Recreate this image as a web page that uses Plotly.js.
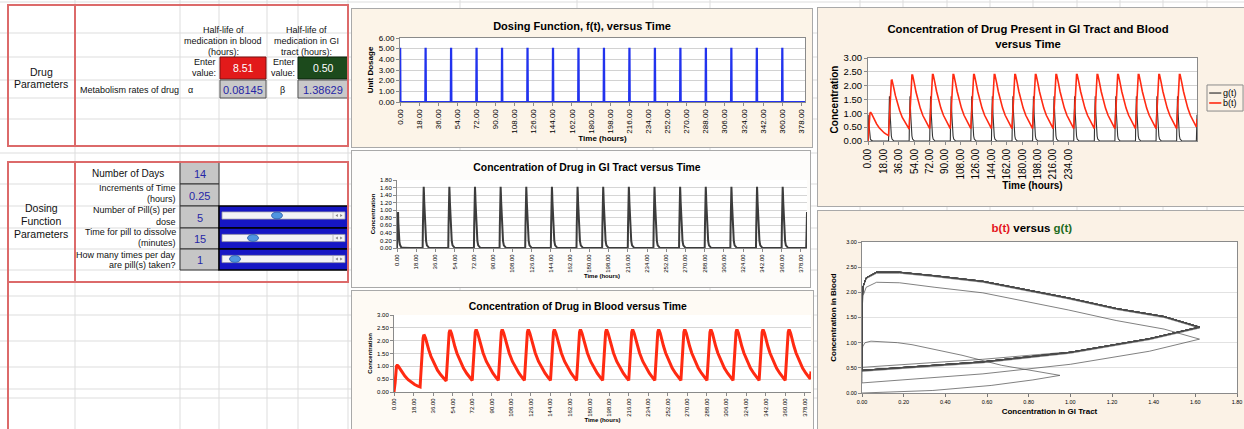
<!DOCTYPE html>
<html><head><meta charset="utf-8">
<script src="https://cdn.plot.ly/plotly-3.0.1.min.js"></script>
<style>
html,body{margin:0;padding:0;background:#fff;width:1244px;height:429px;overflow:hidden}
.pan{position:absolute;outline:1px solid #a9a9a9}
</style></head><body>
<div id="sheet" style="position:absolute;left:0;top:0;width:1244px;height:429px"></div>
<div id="c1" class="pan" style="left:352px;top:9px;width:460px;height:138px"></div>
<div id="c2" class="pan" style="left:352px;top:151px;width:458px;height:136px"></div>
<div id="c3" class="pan" style="left:352px;top:291px;width:461px;height:140px"></div>
<div id="c4" class="pan" style="left:818px;top:8px;width:426px;height:198px"></div>
<div id="c5" class="pan" style="left:818px;top:211px;width:426px;height:220px"></div>
<script>
const F = '"Liberation Sans", Arial, Helvetica, sans-serif';

// ---------------- data ----------------
const doseTime = [0,0.25,0.5, 23.75,24,24.25,24.5, 47.75,48,48.25,48.5, 71.75,72,72.25,72.5,
  95.75,96,96.25,96.5, 119.75,120,120.25,120.5, 143.75,144,144.25,144.5, 167.75,168,168.25,168.5,
  191.75,192,192.25,192.5, 215.75,216,216.25,216.5, 239.75,240,240.25,240.5, 263.75,264,264.25,264.5,
  287.75,288,288.25,288.5, 311.75,312,312.25,312.5, 335.75,336,336.25,336.5, 359.75,360,360.25,360.5, 381.5];
const doseValue = [5,5,0, 0,5,5,0, 0,5,5,0, 0,5,5,0, 0,5,5,0, 0,5,5,0, 0,5,5,0, 0,5,5,0,
  0,5,5,0, 0,5,5,0, 0,5,5,0, 0,5,5,0, 0,5,5,0, 0,5,5,0, 0,5,5,0, 0,5,5,0, 0];

const time = [
  0,0.25,0.5,0.75,1,1.25,1.5,1.75,2,2.25,2.75,3.25,4,5,6,8,10,13,16,19,22,
  24,24.25,24.5,24.75,25,25.25,25.5,25.75,26,26.25,26.75,27.25,28,29,30,32,34,37,40,43,46,
  48,48.25,48.5,48.75,49,49.25,49.5,49.75,50,50.25,50.75,51.25,52,53,54,56,58,61,64,67,70,
  72,72.25,72.5,72.75,73,73.25,73.5,73.75,74,74.25,74.75,75.25,76,77,78,80,82,85,88,91,94,
  96,96.25,96.5,96.75,97,97.25,97.5,97.75,98,98.25,98.75,99.25,100,101,102,104,106,109,112,115,118,
  120,120.25,120.5,120.75,121,121.25,121.5,121.75,122,122.25,122.75,123.25,124,125,126,128,130,133,136,139,142,
  144,144.25,144.5,144.75,145,145.25,145.5,145.75,146,146.25,146.75,147.25,148,149,150,152,154,157,160,163,166,
  168,168.25,168.5,168.75,169,169.25,169.5,169.75,170,170.25,170.75,171.25,172,173,174,176,178,181,184,187,190,
  192,192.25,192.5,192.75,193,193.25,193.5,193.75,194,194.25,194.75,195.25,196,197,198,200,202,205,208,211,214,
  216,216.25,216.5,216.75,217,217.25,217.5,217.75,218,218.25,218.75,219.25,220,221,222,224,226,229,232,235,238,
  240,240.25,240.5,240.75,241,241.25,241.5,241.75,242,242.25,242.75,243.25,244,245,246,248,250,253,256,259,262,
  264,264.25,264.5,264.75,265,265.25,265.5,265.75,266,266.25,266.75,267.25,268,269,270,272,274,277,280,283,286,
  288,288.25,288.5,288.75,289,289.25,289.5,289.75,290,290.25,290.75,291.25,292,293,294,296,298,301,304,307,310,
  312,312.25,312.5,312.75,313,313.25,313.5,313.75,314,314.25,314.75,315.25,316,317,318,320,322,325,328,331,334,
  336,336.25,336.5,336.75,337,337.25,337.5,337.75,338,338.25,338.75,339.25,340,341,342,344,346,349,352,355,358,
  360,360.25,360.5,360.75,361,361.25,361.5,361.75,362,362.25,362.75,363.25,364,365,366,368,370,373,376,379,382,
  383,383.5,383.75];

const gut = [
  0,0.34,0.62,0.82,0.95,0.67,0.48,0.34,0.24,0.17,0.085,0.043,0.015,0.004,0.001,0,0,0,0,0,0,
  0,0.58,1.0,1.38,1.62,1.45,1.22,0.99,0.78,0.58,0.35,0.18,0.07,0.02,0.005,0,0,0,0,0,0,
  0,0.58,1.0,1.38,1.62,1.45,1.22,0.99,0.78,0.58,0.35,0.18,0.07,0.02,0.005,0,0,0,0,0,0,
  0,0.58,1.0,1.38,1.62,1.45,1.22,0.99,0.78,0.58,0.35,0.18,0.07,0.02,0.005,0,0,0,0,0,0,
  0,0.58,1.0,1.38,1.62,1.45,1.22,0.99,0.78,0.58,0.35,0.18,0.07,0.02,0.005,0,0,0,0,0,0,
  0,0.58,1.0,1.38,1.62,1.45,1.22,0.99,0.78,0.58,0.35,0.18,0.07,0.02,0.005,0,0,0,0,0,0,
  0,0.58,1.0,1.38,1.62,1.45,1.22,0.99,0.78,0.58,0.35,0.18,0.07,0.02,0.005,0,0,0,0,0,0,
  0,0.58,1.0,1.38,1.62,1.45,1.22,0.99,0.78,0.58,0.35,0.18,0.07,0.02,0.005,0,0,0,0,0,0,
  0,0.58,1.0,1.38,1.62,1.45,1.22,0.99,0.78,0.58,0.35,0.18,0.07,0.02,0.005,0,0,0,0,0,0,
  0,0.58,1.0,1.38,1.62,1.45,1.22,0.99,0.78,0.58,0.35,0.18,0.07,0.02,0.005,0,0,0,0,0,0,
  0,0.58,1.0,1.38,1.62,1.45,1.22,0.99,0.78,0.58,0.35,0.18,0.07,0.02,0.005,0,0,0,0,0,0,
  0,0.58,1.0,1.38,1.62,1.45,1.22,0.99,0.78,0.58,0.35,0.18,0.07,0.02,0.005,0,0,0,0,0,0,
  0,0.58,1.0,1.38,1.62,1.45,1.22,0.99,0.78,0.58,0.35,0.18,0.07,0.02,0.005,0,0,0,0,0,0,
  0,0.58,1.0,1.38,1.62,1.45,1.22,0.99,0.78,0.58,0.35,0.18,0.07,0.02,0.005,0,0,0,0,0,0,
  0,0.58,1.0,1.38,1.62,1.45,1.22,0.99,0.78,0.58,0.35,0.18,0.07,0.02,0.005,0,0,0,0,0,0,
  0,0.58,1.0,1.38,1.62,1.45,1.22,0.99,0.78,0.58,0.35,0.18,0.07,0.02,0.005,0,0,0,0,0,0,
  0,0.58,0.95];

const blood = [
  0,0.05,0.15,0.26,0.35,0.55,0.75,0.88,0.96,1.0,1.03,1.03,1.0,0.93,0.86,0.73,0.62,0.48,0.37,0.29,0.23,
  0.2,0.38,0.57,0.83,1.07,1.27,1.44,1.65,1.83,1.99,2.10,2.19,2.20,2.10,1.93,1.64,1.39,1.09,0.85,0.67,0.52,
  0.43,0.60,0.79,1.06,1.29,1.50,1.66,1.87,2.04,2.20,2.31,2.38,2.38,2.27,2.09,1.77,1.50,1.18,0.92,0.72,0.55,
  0.45,0.62,0.81,1.08,1.31,1.52,1.68,1.89,2.06,2.22,2.33,2.40,2.40,2.29,2.11,1.79,1.52,1.19,0.93,0.73,0.56,
  0.45,0.62,0.81,1.08,1.31,1.52,1.68,1.89,2.06,2.22,2.33,2.40,2.40,2.29,2.11,1.79,1.52,1.19,0.93,0.73,0.56,
  0.45,0.62,0.81,1.08,1.31,1.52,1.68,1.89,2.06,2.22,2.33,2.40,2.40,2.29,2.11,1.79,1.52,1.19,0.93,0.73,0.56,
  0.45,0.62,0.81,1.08,1.31,1.52,1.68,1.89,2.06,2.22,2.33,2.40,2.40,2.29,2.11,1.79,1.52,1.19,0.93,0.73,0.56,
  0.45,0.62,0.81,1.08,1.31,1.52,1.68,1.89,2.06,2.22,2.33,2.40,2.40,2.29,2.11,1.79,1.52,1.19,0.93,0.73,0.56,
  0.45,0.62,0.81,1.08,1.31,1.52,1.68,1.89,2.06,2.22,2.33,2.40,2.40,2.29,2.11,1.79,1.52,1.19,0.93,0.73,0.56,
  0.45,0.62,0.81,1.08,1.31,1.52,1.68,1.89,2.06,2.22,2.33,2.40,2.40,2.29,2.11,1.79,1.52,1.19,0.93,0.73,0.56,
  0.45,0.62,0.81,1.08,1.31,1.52,1.68,1.89,2.06,2.22,2.33,2.40,2.40,2.29,2.11,1.79,1.52,1.19,0.93,0.73,0.56,
  0.45,0.62,0.81,1.08,1.31,1.52,1.68,1.89,2.06,2.22,2.33,2.40,2.40,2.29,2.11,1.79,1.52,1.19,0.93,0.73,0.56,
  0.45,0.62,0.81,1.08,1.31,1.52,1.68,1.89,2.06,2.22,2.33,2.40,2.40,2.29,2.11,1.79,1.52,1.19,0.93,0.73,0.56,
  0.45,0.62,0.81,1.08,1.31,1.52,1.68,1.89,2.06,2.22,2.33,2.40,2.40,2.29,2.11,1.79,1.52,1.19,0.93,0.73,0.56,
  0.45,0.62,0.81,1.08,1.31,1.52,1.68,1.89,2.06,2.22,2.33,2.40,2.40,2.29,2.11,1.79,1.52,1.19,0.93,0.73,0.56,
  0.45,0.62,0.81,1.08,1.31,1.52,1.68,1.89,2.06,2.22,2.33,2.40,2.40,2.29,2.11,1.79,1.52,1.19,0.93,0.73,0.56,
  0.51,0.67,0.80];

const timeTicks = [0,18,36,54,72,90,108,126,144,162,180,198,216,234,252,270,288,306,324,342,360,378];
const timeTickLabels = ['0.00','18.00','36.00','54.00','72.00','90.00','108.00','126.00','144.00','162.00','180.00',
  '198.00','216.00','234.00','252.00','270.00','288.00','306.00','324.00','342.00','360.00','378.00'];
const shortTicks = [0,18,36,54,72,90,108,126,144,162,180,198,216,234];
const shortTickLabels = ['0.00','18.00','36.00','54.00','72.00','90.00','108.00','126.00','144.00','162.00','180.00','198.00','216.00','234.00'];

// parameter sheet values
const halfLifeBlood = '8.51', halfLifeGI = '0.50', alphaRate = '0.08145', betaRate = '1.38629';
const dosingLabels = ['Number of Days', 'Increments of Time|(hours)', 'Number of Pill(s) per|dose', 'Time for pill to dissolve|(minutes)', 'How many times per day|are pill(s) taken?'];
const dosingValues = ['14', '0.25', '5', '15', '1'];

const cfg = {staticPlot: true, displayModeBar: false};

// ---------------- spreadsheet background ----------------
(function(){
  const shapes = [], ann = [];
  const grid = '#dddddd', red = '#dc6a6a';
  const L = (x0,y0,x1,y1,c,w) => shapes.push({type:'line',xref:'x',yref:'y',x0,y0,x1,y1,line:{color:c,width:w}});
  const R = (x0,y0,x1,y1,fill,lc,lw) => shapes.push({type:'rect',xref:'x',yref:'y',x0,y0,x1,y1,fillcolor:fill,line:{color:lc||'rgba(0,0,0,0)',width:lw||0}});
  const T = (x,y,text,size,anchor,color,bold) => ann.push({x,y,xref:'x',yref:'y',text:bold?'<b>'+text+'</b>':text,showarrow:false,
      xanchor:anchor||'center',yanchor:'middle',font:{family:F,size:size,color:color||'#111'}});
  [75,180,219,267,298,348,460,577,653,710,860,903,947,990,1033,1077,1120,1163,1207].forEach(x=>L(x,0,x,429,grid,1));
  [2,33,57,80,98,119,153,184,206,228,249,270,296,315,341,367,389,398].forEach(y=>L(0,y,1244,y,grid,1));
  // cells
  R(220,57,266,79,'#e21a1a','#7a1010',1);
  R(298,57,348,79,'#1c4a1c','#0a200a',1);
  R(220,80,266,98,'#c9c9c9','#555',1);
  R(298,80,348,98,'#c9c9c9','#555',1);
  const rows = [[162,184],[184,206],[206,228],[228,249],[249,270]];
  rows.forEach(r=>R(180,r[0],219,r[1],'#c6c6c6','#333',1));
  [[206,228],[228,249],[249,270]].forEach(r=>R(219,r[0],348,r[1],'#1616c4','#000',1.5));
  const tracks = [215.5,238,259];
  const thumbs = [277,253,235];
  tracks.forEach((c,i)=>{
    R(222,c-3.6,345,c+3.6,'#f3f3f6','#9a9aa8',0.8);
    L(333,c-3.2,333,c+3.2,'#b0b0b8',0.8);
    shapes.push({type:'circle',xref:'x',yref:'y',x0:thumbs[i]-5.5,x1:thumbs[i]+5.5,y0:c-3.4,y1:c+3.4,fillcolor:'#4f95e0',line:{color:'#2a5aa8',width:0.8}});
    shapes.push({type:'path',xref:'x',yref:'y',path:`M 335.5 ${c} L 337.8 ${c-1.6} L 337.8 ${c+1.6} Z`,fillcolor:'#808080',line:{width:0}});
    shapes.push({type:'path',xref:'x',yref:'y',path:`M 342.5 ${c} L 340.2 ${c-1.6} L 340.2 ${c+1.6} Z`,fillcolor:'#808080',line:{width:0}});
  });
  // red frames
  shapes.push({type:'rect',xref:'x',yref:'y',x0:8,y0:5,x1:348,y1:146,line:{color:red,width:2}});
  L(75,5,75,146,red,2);
  shapes.push({type:'rect',xref:'x',yref:'y',x0:8,y0:162,x1:348,y1:282,line:{color:red,width:2}});
  L(75,162,75,282,red,2);
  L(8,282,8,429,red,2);
  // texts
  T(41,72,'Drug',10.5); T(41,84,'Parameters',10.5);
  T(223,30,'Half-life of',9); T(223,41,'medication in blood',9); T(223,52,'(hours):',9);
  T(306,30,'Half-life of',9); T(306,41,'medication in GI',9); T(306,52,'tract (hours):',9);
  T(218,62,'Enter',9,'right'); T(218,73,'value:',9,'right');
  T(297,62,'Enter',9,'right'); T(297,73,'value:',9,'right');
  T(243,68,halfLifeBlood,10.5,'center','#ffffff');
  T(323,68,halfLifeGI,10.5,'center','#ffffff');
  T(78,89.5,'Metabolism rates of drug',9,'left');
  T(190,89.5,'α',9); T(282,89.5,'β',9);
  T(243,89.5,alphaRate,11,'center','#2626a6');
  T(323,89.5,betaRate,11,'center','#2626a6');
  T(41,208,'Dosing',10.5); T(41,221,'Function',10.5); T(41,234,'Parameters',10.5);
  T(128,173,dosingLabels[0].split('|')[0],10);
  const lab = [[188,199],[210,222],[232,243],[255,265]];
  for (let i=1;i<5;i++){ const p = dosingLabels[i].split('|'); T(178,lab[i-1][0],p[0],9,'right'); T(178,lab[i-1][1],p[1],9,'right'); }
  rows.forEach((r,i)=>T(199.5,(r[0]+r[1])/2+0.5,dosingValues[i],11,'center','#2626a6'));
  Plotly.newPlot('sheet', [], {
    width:1244, height:429, margin:{l:0,r:0,t:0,b:0}, paper_bgcolor:'#ffffff', plot_bgcolor:'#ffffff',
    xaxis:{range:[0,1244],visible:false}, yaxis:{range:[429,0],visible:false},
    shapes:shapes, annotations:ann, showlegend:false
  }, cfg);
})();

// ---------------- helper ----------------
function tAxis(range, ticks, labels, tsize, title, titleSize, standoff, lineCol, mirror){
  return {range:range, tickmode:'array', tickvals:ticks, ticktext:labels, tickangle:-90,
    tickfont:{family:F,size:tsize,color:'#000'}, ticks:'outside', ticklen:3, tickcolor:lineCol,
    showgrid:false, zeroline:false, showline:true, linecolor:lineCol, linewidth:1, mirror:mirror, automargin:false,
    title:{text:'<b>'+title+'</b>', font:{family:F,size:titleSize,color:'#000'}, standoff:standoff}};
}
function vAxis(range, dtick, tsize, title, titleSize, standoff, lineCol, mirror, gridCol){
  return {range:range, dtick:dtick, tick0:0, tickformat:'.2f', tickfont:{family:F,size:tsize,color:'#000'},
    ticks:'outside', ticklen:3, tickcolor:lineCol, showgrid:true, gridcolor:gridCol, gridwidth:1, zeroline:false,
    showline:true, linecolor:lineCol, linewidth:1, mirror:mirror, automargin:false,
    title:{text:'<b>'+title+'</b>', font:{family:F,size:titleSize,color:'#000'}, standoff:standoff}};
}

// ---------------- chart 1: dosing ----------------
Plotly.newPlot('c1', [{x:doseTime, y:doseValue, type:'scatter', mode:'lines', line:{color:'#2233ee', width:2}, name:'f(t)'}], {
  width:460, height:138, margin:{l:48,r:7,t:29,b:45}, paper_bgcolor:'#fcf4e8', plot_bgcolor:'#ffffff', showlegend:false,
  title:{text:'<b>Dosing Function, f(t), versus Time</b>', font:{family:F,size:11,color:'#000'}, x:0.5, xref:'container', xanchor:'center', y:0.877, yref:'container', yanchor:'middle'},
  xaxis:tAxis([0,381.5], timeTicks, timeTickLabels, 8, 'Time (hours)', 8, 2, '#8a8a8a', true),
  yaxis:vAxis([0,6], 1, 8, 'Unit Dosage', 8, 4, '#8a8a8a', true, '#d2d2d2')
}, cfg);

// ---------------- chart 2: GI tract ----------------
Plotly.newPlot('c2', [{x:time, y:gut, type:'scatter', mode:'lines', line:{color:'#3c3c3c', width:2}, name:'g(t)'}], {
  width:458, height:136, margin:{l:45,r:3,t:29,b:39}, paper_bgcolor:'#fdfcfa', plot_bgcolor:'#ffffff', showlegend:false,
  title:{text:'<b>Concentration of Drug in GI Tract versus Time</b>', font:{family:F,size:10.4,color:'#000'}, x:0.513, xref:'container', xanchor:'center', y:0.882, yref:'container', yanchor:'middle'},
  xaxis:tAxis([0,383.75], timeTicks, timeTickLabels, 6, 'Time (hours)', 6, 2, '#8a8a8a', false),
  yaxis:vAxis([0,1.8], 0.2, 6, 'Concentration', 6, 4, '#8a8a8a', false, '#d6d6d6')
}, cfg);

// ---------------- chart 3: blood ----------------
Plotly.newPlot('c3', [{x:time, y:blood, type:'scatter', mode:'lines', line:{color:'#ff2a12', width:3}, name:'b(t)'}], {
  width:461, height:140, margin:{l:42,r:2,t:24,b:39}, paper_bgcolor:'#fefaf4', plot_bgcolor:'#ffffff', showlegend:false,
  title:{text:'<b>Concentration of Drug in Blood versus Time</b>', font:{family:F,size:10.4,color:'#000'}, x:0.49, xref:'container', xanchor:'center', y:0.893, yref:'container', yanchor:'middle'},
  xaxis:tAxis([0,383.75], timeTicks, timeTickLabels, 6, 'Time (hours)', 6, 2, '#8a8a8a', false),
  yaxis:vAxis([0,3], 0.5, 6, 'Concentration', 6, 4, '#8a8a8a', false, '#d6d6d6')
}, cfg);

// ---------------- chart 4: both ----------------
Plotly.newPlot('c4', [
  {x:time, y:gut, type:'scatter', mode:'lines', line:{color:'#333333', width:1.1}, name:'g(t)'},
  {x:time, y:blood, type:'scatter', mode:'lines', line:{color:'#ff2a12', width:1.6}, name:'b(t)'}
], {
  width:426, height:198, margin:{l:50,r:47,t:50,b:65}, paper_bgcolor:'#fbf2e6', plot_bgcolor:'#ffffff', showlegend:false,
  title:{text:'<b>Concentration of Drug Present in GI Tract and Blood<br>versus Time</b>', font:{family:F,size:11.3,color:'#000'}, x:0.493, xref:'container', xanchor:'center', y:0.874, yref:'container', yanchor:'middle'},
  xaxis:tAxis([0,383.75], shortTicks, shortTickLabels, 10, 'Time (hours)', 10, 3, '#8a8a8a', true),
  yaxis:vAxis([0,3], 0.5, 9.5, 'Concentration', 10, 3, '#8a8a8a', true, '#d2d2d2'),
  shapes:[
    {type:'rect', xref:'paper', yref:'paper', x0:1.0304, x1:1.14, y0:0.361, y1:0.675, line:{color:'#8a8a8a', width:1}, fillcolor:'rgba(0,0,0,0)'},
    {type:'line', xref:'paper', yref:'paper', x0:1.037, x1:1.074, y0:0.578, y1:0.578, line:{color:'#333333', width:1.2}},
    {type:'line', xref:'paper', yref:'paper', x0:1.037, x1:1.074, y0:0.458, y1:0.458, line:{color:'#ff2a12', width:1.6}}
  ],
  annotations:[
    {xref:'paper', yref:'paper', x:1.074, y:0.578, text:'g(t)', showarrow:false, xanchor:'left', yanchor:'middle', font:{family:F,size:9,color:'#000'}},
    {xref:'paper', yref:'paper', x:1.074, y:0.458, text:'b(t)', showarrow:false, xanchor:'left', yanchor:'middle', font:{family:F,size:9,color:'#000'}}
  ]
}, cfg);

// ---------------- chart 5: phase plot ----------------
Plotly.newPlot('c5', [{x:gut, y:blood, type:'scatter', mode:'lines', line:{color:'#4a4a4a', width:0.7}, name:'b(t) vs g(t)'}], {
  width:426, height:220, margin:{l:44,r:7,t:31,b:38}, paper_bgcolor:'#fbf2e6', plot_bgcolor:'#ffffff', showlegend:false,
  title:{text:'<b><span style="color:#e4141c">b(t)</span> versus <span style="color:#1d6b1d">g(t)</span></b>', font:{family:F,size:11.5,color:'#000'}, x:0.502, xref:'container', xanchor:'center', y:0.923, yref:'container', yanchor:'middle'},
  xaxis:{range:[0,1.8], dtick:0.2, tick0:0, tickformat:'.2f', tickfont:{family:F,size:5.5,color:'#000'}, ticks:'outside', ticklen:3, tickcolor:'#777',
    showgrid:false, zeroline:false, showline:true, linecolor:'#8a8a8a', mirror:true, automargin:false,
    title:{text:'<b>Concentration in GI Tract</b>', font:{family:F,size:8,color:'#000'}, standoff:4}},
  yaxis:vAxis([0,3], 0.5, 5.5, 'Concentration in Blood', 8, 8, '#8a8a8a', true, '#e2e2e2')
}, cfg);
</script>
</body></html>
